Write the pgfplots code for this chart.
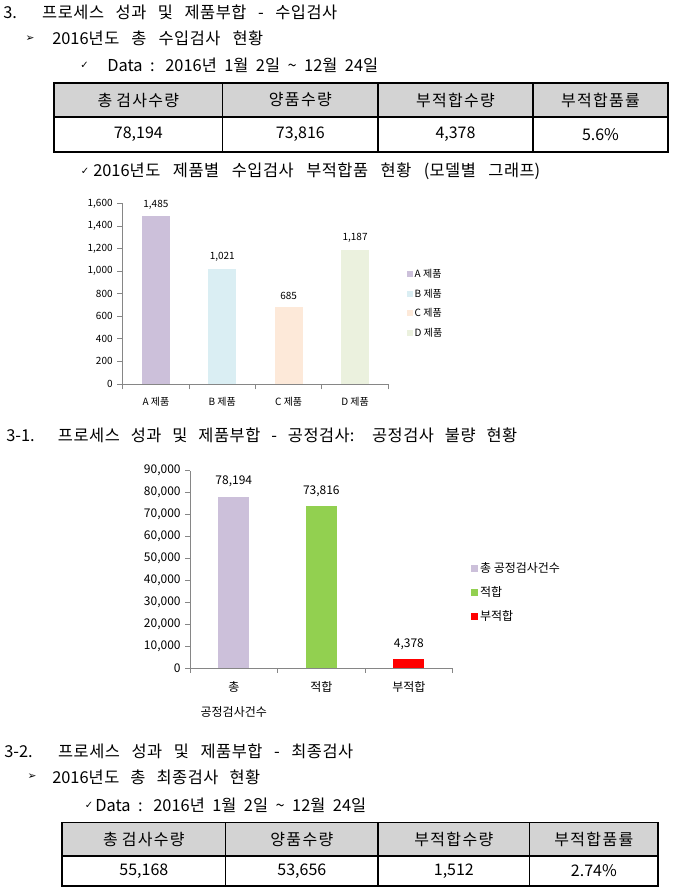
\documentclass[border=0pt]{standalone}
\usepackage{fontspec}
\setmainfont{Noto Sans CJK KR}
\newfontfamily\symf{DejaVu Sans}
\usepackage{pgfplots}
\pgfplotsset{compat=1.18}
% letter spacing between Hangul syllables
\newdimen\lsamt \lsamt=0pt
\XeTeXinterchartokenstate=1
\newXeTeXintercharclass\hangulclass
\count255="AC00
\loop
  \XeTeXcharclass\count255=\hangulclass
  \ifnum\count255<"D7A3 \advance\count255 by 1
\repeat
\XeTeXinterchartoks\hangulclass\hangulclass={\kern\lsamt}
\pgfplotsset{
  sqA/.style={legend image code/.code={\fill[##1] (0pt,-2.25pt) rectangle (4.5pt,2.25pt);}},
  sqB/.style={legend image code/.code={\fill[##1] (0pt,-2.6pt) rectangle (5.2pt,2.6pt);}},
}
\definecolor{cA}{HTML}{CCC0DA}
\definecolor{cB}{HTML}{DAEEF3}
\definecolor{cC}{HTML}{FDE9D9}
\definecolor{cD}{HTML}{EBF1DE}
\definecolor{cG}{HTML}{92D050}
\definecolor{cR}{HTML}{FF0000}
\definecolor{axgray}{HTML}{868686}
\definecolor{hdr}{HTML}{D3D3D3}
\newcommand\bodytext{\fontsize{12.3pt}{14pt}\selectfont\lsamt=0.4pt\spaceskip=4pt plus 20pt minus 2pt\relax}
\newcommand\headtext{\fontsize{12pt}{14pt}\selectfont\lsamt=1pt\spaceskip=3pt plus 2pt minus 2pt\relax}
\newcommand\valtext{\fontsize{12pt}{14pt}\selectfont}
\newcommand\cAfont{\fontsize{7.5pt}{9pt}\selectfont}
\newcommand\cBfont{\fontsize{9pt}{11pt}\selectfont}
\newcommand\txtline[3]{\node[anchor=west,inner sep=0pt] at (#1) {\bodytext\makebox[#2pt][s]{#3}};}
\begin{document}
\begin{tikzpicture}
\begin{scope}[x=0.75pt,y=-0.75pt]
\useasboundingbox (0,0) rectangle (673,889);
% ---- text lines
\txtline{3,12}{250.5}{3. 프로세스 성과 및 제품부합 - 수입검사}
\node[inner sep=0pt] at (30,38.5) {\fontsize{8pt}{9pt}\symf ➢};
\txtline{52,38.5}{158.25}{2016년도 총 수입검사 현황}
\node[inner sep=0pt] at (84.5,65.5) {\fontsize{7.5pt}{8pt}\symf ✓};
\txtline{107,65.5}{203.25}{Data : 2016년 1월 2일 \textasciitilde{} 12월 24일}
% table 1
\fill[hdr] (54,83) rectangle (668,117);
\draw[line width=0.8pt] (54,117) -- (668,117);
\foreach \x in {222.7,378,533} \draw[line width=0.8pt] (\x,83) -- (\x,152);
\draw[line width=1.1pt] (54,83) rectangle (668,152);
\node at (138.35,100) {\headtext 총 검사수량};
\node at (300.35,100) {\headtext 양품수량};
\node at (455.5,100) {\headtext 부적합수량};
\node at (600.5,100) {\headtext 부적합품률};
\node at (138.35,134.5) {\valtext 78,194};
\node at (300.35,134.5) {\valtext 73,816};
\node at (455.5,134.5) {\valtext 4,378};
\node at (600.5,134.5) {\valtext 5.6\%};
% chart 1 title
\node[inner sep=0pt] at (85,171.5) {\fontsize{7.5pt}{8pt}\symf ✓};
\txtline{93,171.5}{335.25}{2016년도 제품별 수입검사 부적합품 현황 (모델별 그래프)}
% section 3-1
\txtline{6,435}{383.25}{3-1. 프로세스 성과 및 제품부합 - 공정검사: 공정검사 불량 현황}
% section 3-2
\txtline{4,751.5}{261.75}{3-2. 프로세스 성과 및 제품부합 - 최종검사}
\node[inner sep=0pt] at (32,777) {\fontsize{8pt}{9pt}\symf ➢};
\txtline{52,777}{156}{2016년도 총 최종검사 현황}
\node[inner sep=0pt] at (89,805.5) {\fontsize{7.5pt}{8pt}\symf ✓};
\txtline{95,805.5}{203.25}{Data : 2016년 1월 2일 \textasciitilde{} 12월 24일}
% table 2
\fill[hdr] (62,822.7) rectangle (658,856);
\draw[line width=0.8pt] (62,856) -- (658,856);
\foreach \x in {225.7,378,529.7} \draw[line width=0.8pt] (\x,822.7) -- (\x,886);
\draw[line width=1.1pt] (62,822.7) rectangle (658,886);
\node at (143.85,839.3) {\headtext 총 검사수량};
\node at (301.85,839.3) {\headtext 양품수량};
\node at (453.85,839.3) {\headtext 부적합수량};
\node at (593.85,839.3) {\headtext 부적합품률};
\node at (143.85,871) {\valtext 55,168};
\node at (301.85,871) {\valtext 53,656};
\node at (453.85,871) {\valtext 1,512};
\node at (593.85,871) {\valtext 2.74\%};
\end{scope}
% ---- chart 1
\begin{axis}[
  at={(92.0pt,-288pt)}, anchor=south west,
  scale only axis, width=199.2pt, height=135.5pt,
  xmin=-0.5, xmax=3.5, ymin=0, ymax=1600,
  ytick={0,200,...,1600}, scaled y ticks=false,
  axis lines*=left, clip=false,
  axis line style={draw=axgray, line width=0.6pt, -},
  tick style={draw=axgray, line width=0.6pt},
  tick align=outside, major tick length=4pt,
  xtick={-0.5,0.5,1.5,2.5,3.5}, xticklabels={},
  extra x ticks={0,1,2,3},
  extra x tick labels={A 제품,B 제품,C 제품,D 제품},
  extra x tick style={major tick length=0pt, xticklabel style={yshift=-6.5pt}},
  ybar, bar width=21pt, bar shift=0pt,
  nodes near coords,
  every node near coord/.append style={font=\cAfont, yshift=2pt, text=black},
  ticklabel style={font=\cAfont, text=black},
  /pgf/number format/assume math mode=true,
  legend cell align=left,
  legend style={at={(1.056,0.652)}, anchor=north west, draw=none, fill=none,
    font=\cAfont, row sep=7pt, column sep=1pt, nodes={inner sep=0pt}},
]
\addplot[fill=cA, draw=none, sqA] coordinates {(0,1485)};
\addplot[fill=cB, draw=none, sqA] coordinates {(1,1021)};
\addplot[fill=cC, draw=none, sqA] coordinates {(2,685)};
\addplot[fill=cD, draw=none, sqA] coordinates {(3,1187)};
\legend{A 제품, B 제품, C 제품, D 제품}
\end{axis}
% ---- chart 2
\begin{axis}[
  at={(142.5pt,-501.2pt)}, anchor=south west,
  scale only axis, width=197pt, height=148.2pt,
  xmin=-0.5, xmax=2.5, ymin=0, ymax=90000,
  ytick={0,10000,...,90000}, scaled y ticks=false,
  axis lines*=left, clip=false,
  axis line style={draw=axgray, line width=0.6pt, -},
  tick style={draw=axgray, line width=0.6pt},
  tick align=outside, major tick length=3.5pt,
  xtick={-0.5,0.5,1.5,2.5}, xticklabels={},
  extra x ticks={0,1,2},
  extra x tick labels={{총\\[8pt]공정검사건수},적합,부적합},
  extra x tick style={major tick length=0pt, xticklabel style={yshift=-6.5pt}},
  xticklabel style={align=center},
  ybar, bar width=23.25pt, bar shift=0pt,
  nodes near coords,
  every node near coord/.append style={font=\cBfont, yshift=3.5pt, text=black},
  ticklabel style={font=\cBfont, text=black},
  /pgf/number format/assume math mode=true,
  legend cell align=left,
  legend style={at={(1.054,0.548)}, anchor=north west, draw=none, fill=none,
    font=\cBfont, row sep=9pt, column sep=1.5pt, nodes={inner sep=0pt}},
]
\addplot[fill=cA, draw=none, sqB] coordinates {(0,78194)};
\addplot[fill=cG, draw=none, sqB] coordinates {(1,73816)};
\addplot[fill=cR, draw=none, sqB] coordinates {(2,4378)};
\legend{총 공정검사건수, 적합, 부적합}
\end{axis}
\end{tikzpicture}
\end{document}
